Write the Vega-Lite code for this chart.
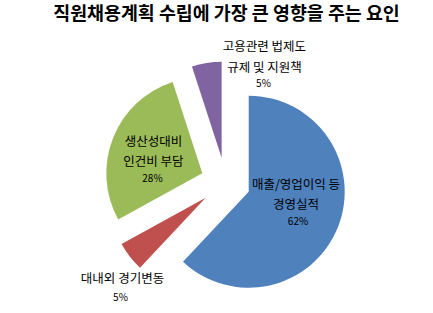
{
  "$schema": "https://vega.github.io/schema/vega-lite/v6.json",
  "autosize": {"type": "none"},
  "width": 415,
  "height": 261,
  "padding": {"left": 18, "top": 52, "right": 0, "bottom": 0},
  "background": "white",
  "config": {"view": {"stroke": null}, "text": {"font": "Noto Sans CJK KR", "color": "#000000"}},
  "title": {
    "text": "직원채용계획 수립에 가장 큰 영향을 주는 요인",
    "font": "Noto Sans CJK KR",
    "fontSize": 18.4,
    "fontWeight": "bold",
    "color": "#000000",
    "anchor": "middle",
    "baseline": "middle",
    "offset": 8,
    "dx": 1
  },
  "data": {
    "values": [
      {"cat": "매출/영업이익 등 경영실적", "label": "매출/영업이익 등\n경영실적", "pct": "62%", "value": 62},
      {"cat": "대내외 경기변동", "label": "대내외 경기변동", "pct": "5%", "value": 5},
      {"cat": "생산성대비 인건비 부담", "label": "생산성대비\n인건비 부담", "pct": "28%", "value": 28},
      {"cat": "고용관련 법제도 규제 및 지원책", "label": "고용관련 법제도\n규제 및 지원책", "pct": "5%", "value": 5}
    ]
  },
  "transform": [{"window": [{"op": "row_number", "as": "idx"}]}],
  "encoding": {
    "theta": {"field": "value", "type": "quantitative", "stack": true, "scale": {"domain": [0, 100]}},
    "order": {"field": "idx", "type": "quantitative"},
    "color": {
      "field": "cat",
      "type": "nominal",
      "legend": null,
      "scale": {
        "domain": ["매출/영업이익 등 경영실적", "대내외 경기변동", "생산성대비 인건비 부담", "고용관련 법제도 규제 및 지원책"],
        "range": ["#4F81BD", "#C0504D", "#9BBB59", "#8064A2"]
      }
    }
  },
  "layer": [
    {
      "mark": {"type": "arc", "outerRadius": 96, "xOffset": 23.2, "yOffset": 9.2, "strokeWidth": 0},
      "encoding": {"opacity": {"condition": {"test": "datum.cat === '매출/영업이익 등 경영실적'", "value": 1}, "value": 0}}
    },
    {
      "mark": {"type": "arc", "outerRadius": 96, "xOffset": -19.8, "yOffset": 15.3, "strokeWidth": 0},
      "encoding": {"opacity": {"condition": {"test": "datum.cat === '대내외 경기변동'", "value": 1}, "value": 0}}
    },
    {
      "mark": {"type": "arc", "outerRadius": 96, "xOffset": -23.2, "yOffset": -9.2, "strokeWidth": 0},
      "encoding": {"opacity": {"condition": {"test": "datum.cat === '생산성대비 인건비 부담'", "value": 1}, "value": 0}}
    },
    {
      "mark": {"type": "arc", "outerRadius": 96, "xOffset": -3.9, "yOffset": -24.7, "strokeWidth": 0},
      "encoding": {"opacity": {"condition": {"test": "datum.cat === '고용관련 법제도 규제 및 지원책'", "value": 1}, "value": 0}}
    },
    {
      "mark": {"type": "text", "radius": 50, "dx": 24, "dy": -15.9, "fontSize": 12.5, "lineBreak": "\n", "lineHeight": 20, "align": "center", "baseline": "middle"},
      "encoding": {"color": {"value": "#000000"}, "detail": {"field": "cat"}, "text": {"condition": {"test": "datum.cat === '매출/영업이익 등 경영실적'", "field": "label"}, "value": ""}}
    },
    {
      "mark": {"type": "text", "radius": 50, "dx": 26, "dy": 21.1, "fontSize": 10, "align": "center", "baseline": "middle"},
      "encoding": {"color": {"value": "#000000"}, "detail": {"field": "cat"}, "text": {"condition": {"test": "datum.cat === '매출/영업이익 등 경영실적'", "field": "pct"}, "value": ""}}
    },
    {
      "mark": {"type": "text", "radius": 110, "dx": -16.1, "dy": 29.1, "fontSize": 12.5, "lineBreak": "\n", "lineHeight": 20, "align": "center", "baseline": "middle"},
      "encoding": {"color": {"value": "#000000"}, "detail": {"field": "cat"}, "text": {"condition": {"test": "datum.cat === '대내외 경기변동'", "field": "label"}, "value": ""}}
    },
    {
      "mark": {"type": "text", "radius": 110, "dx": -18.1, "dy": 48.1, "fontSize": 10, "align": "center", "baseline": "middle"},
      "encoding": {"color": {"value": "#000000"}, "detail": {"field": "cat"}, "text": {"condition": {"test": "datum.cat === '대내외 경기변동'", "field": "pct"}, "value": ""}}
    },
    {
      "mark": {"type": "text", "radius": 52, "dx": -23.7, "dy": -21.4, "fontSize": 12.5, "lineBreak": "\n", "lineHeight": 20, "align": "center", "baseline": "middle"},
      "encoding": {"color": {"value": "#000000"}, "detail": {"field": "cat"}, "text": {"condition": {"test": "datum.cat === '생산성대비 인건비 부담'", "field": "label"}, "value": ""}}
    },
    {
      "mark": {"type": "text", "radius": 52, "dx": -24.7, "dy": 15.6, "fontSize": 10, "align": "center", "baseline": "middle"},
      "encoding": {"color": {"value": "#000000"}, "detail": {"field": "cat"}, "text": {"condition": {"test": "datum.cat === '생산성대비 인건비 부담'", "field": "pct"}, "value": ""}}
    },
    {
      "mark": {"type": "text", "radius": 100, "dx": 54.6, "dy": -37.2, "fontSize": 12.5, "lineBreak": "\n", "lineHeight": 21.5, "align": "center", "baseline": "middle"},
      "encoding": {"color": {"value": "#000000"}, "detail": {"field": "cat"}, "text": {"condition": {"test": "datum.cat === '고용관련 법제도 규제 및 지원책'", "field": "label"}, "value": ""}}
    },
    {
      "mark": {"type": "text", "radius": 100, "dx": 53.6, "dy": 0.3, "fontSize": 10, "align": "center", "baseline": "middle"},
      "encoding": {"color": {"value": "#000000"}, "detail": {"field": "cat"}, "text": {"condition": {"test": "datum.cat === '고용관련 법제도 규제 및 지원책'", "field": "pct"}, "value": ""}}
    }
  ]
}
